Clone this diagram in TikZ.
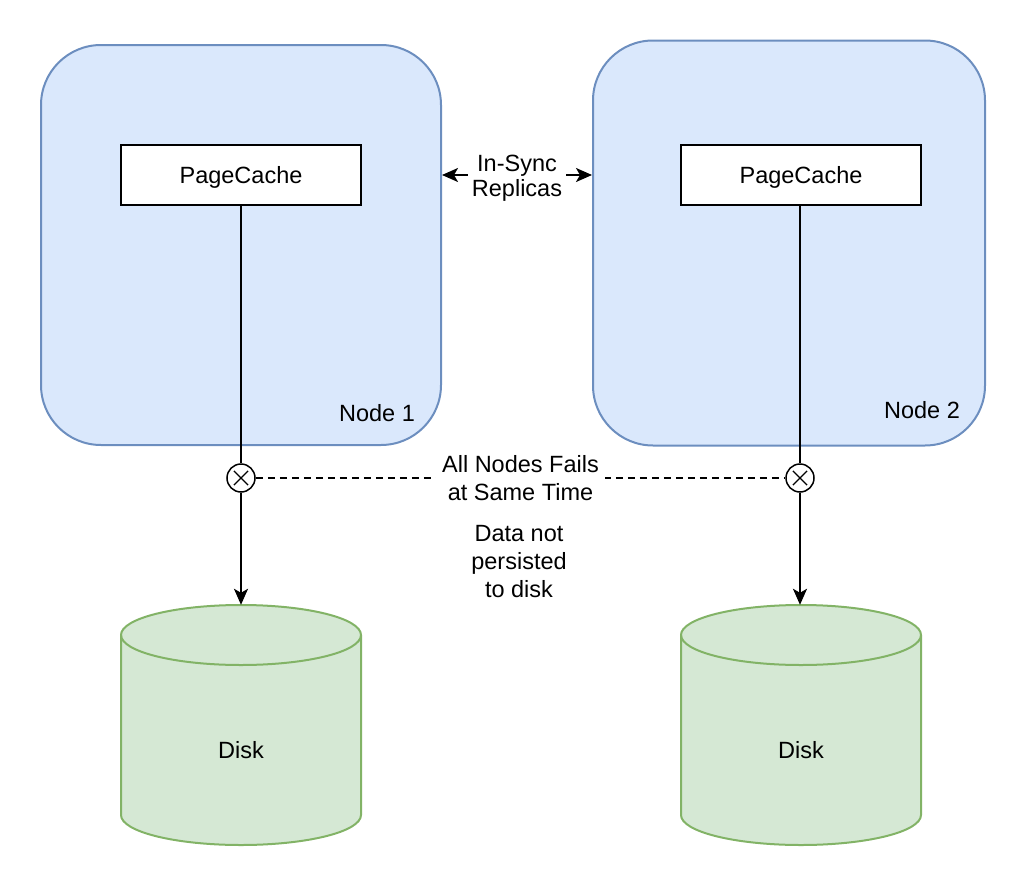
\documentclass[tikz,border=0pt]{standalone}
\usepackage{fontspec}
\setmainfont{Liberation Sans}
\usetikzlibrary{arrows.meta}
\definecolor{bluefill}{HTML}{DAE8FC}
\definecolor{bluestroke}{HTML}{6C8EBF}
\definecolor{greenfill}{HTML}{D5E8D4}
\definecolor{greenstroke}{HTML}{82B366}
\begin{document}
\begin{tikzpicture}[x=1pt,y=-1pt,
  every node/.style={font=\fontsize{23.5}{28}\selectfont, inner sep=0pt, align=center},
  oneline/.style={text height=20pt, text depth=4pt},
  nodebox/.style={draw=bluestroke, fill=bluefill, line width=2pt, rounded corners=60pt},
  cachebox/.style={draw=black, fill=white, line width=2pt, minimum width=240pt, minimum height=60pt, oneline},
  diskshape/.style={draw=greenstroke, fill=greenfill, line width=2pt},
  conn/.style={line width=2pt},
  tip/.style={-{Stealth[length=16pt,width=14pt,inset=4pt]}},
  failmark/.style={circle, draw=black, fill=white, line width=1.5pt, minimum size=28pt,
    path picture={\draw[line width=1.3pt] ([shift={(45:10pt)}]path picture bounding box.center) -- ([shift={(225:10pt)}]path picture bounding box.center);
                  \draw[line width=1.3pt] ([shift={(135:10pt)}]path picture bounding box.center) -- ([shift={(315:10pt)}]path picture bounding box.center);}},
  lbl/.style={fill=white, inner sep=2pt}
]
\useasboundingbox (0,0) rectangle (1026,886);

% Node boxes
\node[nodebox, minimum width=400pt, minimum height=400pt] (node1) at (241,245) {};
\node[nodebox, minimum width=392pt, minimum height=405pt] (node2) at (789,243) {};
\node[oneline] (node1lbl) at (377,413) {Node 1};
\node[oneline] (node2lbl) at (922,410) {Node 2};

% PageCache
\node[cachebox] (pc1) at (241,175) {PageCache};
\node[cachebox] (pc2) at (801,175) {PageCache};

% Fail markers
\node[failmark] (c1) at (241,478) {};
\node[failmark] (c2) at (800,478) {};

% Disks
\path[diskshape] (121,635) -- (121,815) arc[start angle=180, end angle=0, x radius=120, y radius=30]
  -- (361,635) arc[start angle=0, end angle=-180, x radius=120, y radius=30] -- cycle;
\draw[diskshape, fill=none] (121,635) arc[start angle=180, end angle=0, x radius=120, y radius=30];
\node[minimum width=240pt, minimum height=240pt] (disk1) at (241,725) {};
\node[oneline] at (241,750) {Disk};

\path[diskshape] (681,635) -- (681,815) arc[start angle=180, end angle=0, x radius=120, y radius=30]
  -- (921,635) arc[start angle=0, end angle=-180, x radius=120, y radius=30] -- cycle;
\draw[diskshape, fill=none] (681,635) arc[start angle=180, end angle=0, x radius=120, y radius=30];
\node[minimum width=240pt, minimum height=240pt] (disk2) at (801,725) {};
\node[oneline] at (801,750) {Disk};

% Connectors
\draw[conn] (pc1.south) -- (c1.north);
\draw[conn] (pc2.south -| c2) -- (c2.north);
\draw[conn, tip] (c1.south) -- (disk1.north);
\draw[conn, tip] (c2.south) -- (disk2.north -| c2);

\draw[conn, {Stealth[length=16pt,width=14pt,inset=4pt]}-{Stealth[length=16pt,width=14pt,inset=4pt]}]
  (node1.east |- pc1.east) -- (node2.west |- pc1.east)
  node[midway, lbl, inner xsep=4pt, yshift=-3pt, font=\fontsize{23.5}{25}\selectfont] {In-Sync\\Replicas};

\draw[conn, line width=1.8pt, dash pattern=on 7pt off 5pt] (c1.east) -- (c2.west)
  node[pos=0.5, lbl, inner xsep=6pt] {All Nodes Fails\\at Same Time};

\node (note) at (519,562) {Data not\\persisted\\to disk};
\end{tikzpicture}
\end{document}
